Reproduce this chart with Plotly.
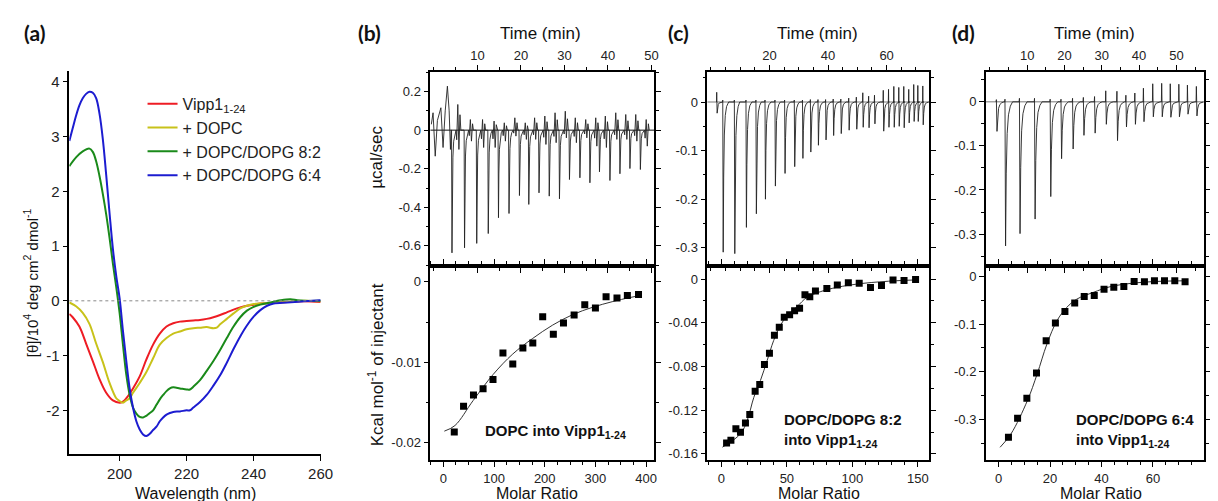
import plotly.graph_objects as go

W, H = 1218, 501
FONT = "Liberation Sans, Arial, sans-serif"

# ---------------- Panel (a): CD spectra ----------------
wl_red = [185, 186, 188, 190, 192, 194, 196, 198, 200, 201, 202, 204, 206, 208, 210, 212, 214, 216, 218, 220,
          222, 224, 226, 228, 230, 232, 234, 236, 238, 240, 242, 245, 250, 255, 260]
cd_red = [-0.24, -0.3, -0.47, -0.78, -1.1, -1.43, -1.68, -1.82, -1.86, -1.84, -1.78, -1.6, -1.38, -1.07, -0.8,
          -0.6, -0.47, -0.41, -0.38, -0.37, -0.36, -0.35, -0.33, -0.3, -0.26, -0.21, -0.16, -0.12, -0.09, -0.07,
          -0.05, -0.04, -0.02, -0.01, -0.02]

wl_yel = [185, 187, 189, 191, 193, 195, 197, 199, 200, 201, 202, 203, 204, 206, 208, 210, 212, 214, 216, 218,
          220, 222, 224, 226, 228, 229, 230, 232, 234, 236, 238, 240, 245, 250, 255, 260]
cd_yel = [-0.03, -0.1, -0.22, -0.42, -0.78, -1.12, -1.5, -1.78, -1.83, -1.86, -1.82, -1.78, -1.68, -1.5, -1.3,
          -1.05, -0.8, -0.68, -0.6, -0.56, -0.52, -0.5, -0.49, -0.48, -0.5, -0.49, -0.43, -0.33, -0.23, -0.14,
          -0.09, -0.06, -0.04, -0.02, 0.0, -0.01]

wl_grn = [185, 187, 189, 191, 192, 193, 194, 195, 196, 197, 198, 199, 200, 201, 202, 203, 204, 205, 206, 207,
          208, 209, 210, 211, 212, 213, 214, 215, 216, 218, 220, 221, 222, 224, 226, 228, 230, 232, 234, 236,
          238, 240, 242, 245, 248, 251, 253, 255, 260]
cd_grn = [2.46, 2.62, 2.73, 2.78, 2.72, 2.55, 2.28, 1.95, 1.58, 1.15, 0.68, 0.25, -0.22, -0.8, -1.35, -1.72,
          -1.95, -2.06, -2.12, -2.13, -2.1, -2.05, -2.0, -1.9, -1.8, -1.72, -1.65, -1.6, -1.58, -1.6, -1.62,
          -1.62, -1.57, -1.45, -1.28, -1.1, -0.9, -0.68, -0.47, -0.3, -0.18, -0.11, -0.07, -0.03, 0.01, 0.03,
          0.01, 0.0, 0.0]

wl_blu = [185, 186, 187, 188, 189, 190, 191, 192, 193, 194, 195, 196, 197, 198, 199, 200, 201, 202, 203, 204,
          205, 206, 207, 208, 209, 210, 211, 212, 213, 214, 215, 216, 218, 220, 221, 222, 224, 226, 228, 230,
          232, 234, 236, 238, 240, 242, 244, 246, 250, 255, 260]
cd_blu = [2.92, 3.15, 3.38, 3.57, 3.7, 3.78, 3.82, 3.8, 3.7, 3.42, 2.95, 2.3, 1.6, 0.95, 0.45, 0.05, -0.55,
          -1.1, -1.6, -1.95, -2.2, -2.35, -2.44, -2.47, -2.43, -2.36, -2.3, -2.2, -2.13, -2.08, -2.05, -2.03,
          -2.02, -2.0, -2.0, -1.95, -1.85, -1.72, -1.55, -1.36, -1.13, -0.88, -0.65, -0.45, -0.29, -0.17, -0.09,
          -0.05, -0.03, -0.01, 0.01]

cd_names = ["Vipp1<sub>1-24</sub>", "+ DOPC", "+ DOPC/DOPG 8:2", "+ DOPC/DOPG 6:4"]
cd_colors = ["#ee1c24", "#c8c21a", "#1a8a1a", "#1c1cd0"]

# ---------------- Panel (b): DOPC into Vipp1 ----------------
b_inj_t = [4.09, 6.98, 9.78, 12.43, 14.78, 17.2, 19.6, 21.75, 24.1, 26.45, 28.8, 31.1, 33.5, 35.8, 38.0,
           40.4, 42.7, 45.0, 47.4]
b_inj_peak = [-0.636, -0.61, -0.587, -0.536, -0.454, -0.432, -0.339, -0.385, -0.325, -0.342, -0.356, -0.256,
              -0.247, -0.273, -0.216, -0.261, -0.226, -0.199, -0.204]
b_hi = [0.133, 0.055, 0.055, 0.047, 0.038, 0.064, 0.038, 0.064, 0.073, 0.09, 0.098, 0.064, 0.055, 0.064, 0.073,
        0.09, 0.081, 0.081, 0.055]
b_lo = [-0.1, -0.057, -0.09, -0.09, -0.057, -0.031, -0.048, -0.048, -0.074, -0.065, -0.04, -0.065, -0.04,
        -0.083, -0.09, -0.048, -0.048, -0.057, -0.083]
b_pre_t = [-0.6, -0.2, 0.3, 0.8, 1.6, 2.1, 2.6, 3.1, 3.5, 3.8]
b_pre_v = [0.03, 0.09, -0.135, 0.05, 0.116, -0.09, 0.1, 0.228, 0.1, -0.1]

b_mr = [21.6, 39.9, 59.5, 78.4, 98, 117.6, 137, 156.9, 176.5, 196, 217, 237, 258, 279, 300, 321, 342.5, 363, 385]
b_heat = [-0.01867, -0.01545, -0.01405, -0.0133, -0.01215, -0.00884, -0.0102, -0.00822, -0.0076, -0.00434,
          -0.00653, -0.00513, -0.00413, -0.00285, -0.00327, -0.00186, -0.00203, -0.0017, -0.0016]
b_fit_mr = [2, 23, 58.8, 98, 137, 176.5, 215.7, 255, 294, 333, 369, 390]
b_fit = [-0.01855, -0.01785, -0.01475, -0.01153, -0.00897, -0.00703, -0.00538, -0.00409, -0.00318, -0.00248,
         -0.00195, -0.0017]

# ---------------- Panel (c): DOPC/DOPG 8:2 ----------------
c_inj_t = [2.0, 4.07, 8.03, 12.0, 15.4, 18.5, 21.9, 25.2, 28.5, 31.3, 34.0, 36.6, 39.2, 41.8, 44.4, 47.1, 49.7,
           51.9, 53.9, 55.9, 58.9, 60.7, 62.5, 64.2, 65.9, 67.6, 69.3, 70.7, 72.4]
c_inj_peak = [-0.023, -0.309, -0.312, -0.258, -0.23, -0.2, -0.173, -0.147, -0.133, -0.116, -0.103, -0.089,
              -0.078, -0.069, -0.065, -0.058, -0.056, -0.052, -0.053, -0.045, -0.06, -0.052, -0.052, -0.05,
              -0.053, -0.043, -0.04, -0.04, -0.047]
c_inj_up = [0.02, 0.004, 0.004, 0.004, 0.004, 0.004, 0.004, 0.004, 0.004, 0.004, 0.005, 0.005, 0.005, 0.006,
            0.006, 0.008, 0.01, 0.019, 0.012, 0.014, 0.024, 0.026, 0.032, 0.03, 0.032, 0.026, 0.036, 0.034, 0.033]

c_mr = [4.0, 7.3, 11.1, 14.6, 18.4, 21.7, 25.8, 29.3, 32.9, 36.7, 40.5, 44.2, 48, 52.1, 55.9, 59.7, 63.8, 67.5,
        71.8, 80.5, 88.5, 96.9, 105.2, 113.8, 122.2, 131, 139.4, 148.2]
c_heat = [-0.150, -0.1475, -0.1371, -0.1402, -0.1317, -0.124, -0.1027, -0.0966, -0.0783, -0.0679, -0.0515,
          -0.0442, -0.035, -0.0326, -0.0289, -0.0268, -0.0143, -0.0161, -0.011, -0.0085, -0.0055, -0.0033,
          -0.0039, -0.0076, -0.0058, -0.0009, -0.0012, -0.0003]
c_fit_mr = [0.8, 14.6, 19.7, 24.8, 29.8, 34.9, 39.9, 45, 50.1, 57.7, 65.3, 75.4, 88, 108, 133.6, 150]
c_fit = [-0.1539, -0.1417, -0.1295, -0.1082, -0.0929, -0.0747, -0.0563, -0.0426, -0.0335, -0.0253, -0.0167,
         -0.0116, -0.0076, -0.0039, -0.0015, -0.0007]

# ---------------- Panel (d): DOPC/DOPG 6:4 ----------------
d_inj_t = [1.78, 4.08, 7.96, 12.0, 16.2, 19.1, 22.2, 25.1, 28.1, 31.1, 34.1, 36.5, 38.9, 41.2, 43.7, 46.1,
           48.4, 50.7, 53.0, 55.4]
d_inj_peak = [-0.067, -0.327, -0.299, -0.266, -0.215, -0.129, -0.107, -0.076, -0.071, -0.051, -0.088, -0.057,
              -0.051, -0.045, -0.034, -0.034, -0.035, -0.034, -0.028, -0.032]
d_inj_up = [0.005, 0.006, 0.008, 0.008, 0.006, 0.006, 0.008, 0.01, 0.012, 0.025, 0.024, 0.015, 0.02, 0.031,
            0.041, 0.042, 0.041, 0.04, 0.038, 0.035]

d_mr = [3.85, 7.4, 11.0, 14.75, 18.5, 22.1, 25.8, 29.6, 33.3, 37.2, 41.0, 44.8, 48.7, 52.7, 56.7, 60.6, 64.5,
        68.5, 72.5]
d_heat = [-0.3375, -0.2977, -0.2558, -0.2027, -0.1349, -0.0979, -0.0734, -0.0559, -0.0419, -0.0398, -0.0266,
          -0.0224, -0.021, -0.0105, -0.0112, -0.009, -0.009, -0.009, -0.0112]
d_fit_mr = [0.6, 4.8, 11.2, 15, 18.8, 22.7, 26.5, 30.4, 36.8, 43.3, 52.3, 61.2, 72.5]
d_fit = [-0.3585, -0.3306, -0.2607, -0.2048, -0.1419, -0.0929, -0.065, -0.0476, -0.0335, -0.0216, -0.014,
         -0.0105, -0.0091]

# spike profile used to draw each injection peak (relative time, fraction of peak depth)
SPIKE_DT = [0.12, 0.3, 0.55, 0.9, 1.4, 2.0]
SPIKE_F = [1.0, 0.5, 0.22, 0.09, 0.03, 0.0]


def thermogram(times, peaks, ups, width, hi=None, lo=None, pre_t=None, pre_v=None):
    xs, ys = [], []
    if pre_t:
        xs += list(pre_t)
        ys += list(pre_v)
    for i, (t, p, u) in enumerate(zip(times, peaks, ups)):
        xs += [t - 0.12, t - 0.04]
        ys += [0.0, u]
        for dt, f in zip(SPIKE_DT, SPIKE_F):
            xs.append(t + dt * width)
            ys.append(p * f)
        if hi is not None:
            xs += [t + 1.15, t + 1.4, t + 1.65, t + 1.9, t + 2.1]
            ys += [lo[i] * 0.5, hi[i], lo[i], hi[i] * 0.6, 0.0]
        else:
            xs.append(t + 2.2 * width)
            ys.append(0.0)
    return xs, ys


def px(x):
    return x / W


def py(y):
    return 1 - y / H


fig = go.Figure()

# Panel (a)
for wl, cd, nm, col in zip([wl_red, wl_yel, wl_grn, wl_blu], [cd_red, cd_yel, cd_grn, cd_blu], cd_names, cd_colors):
    fig.add_trace(go.Scatter(x=wl, y=cd, mode="lines", name=nm, line=dict(color=col, width=2, shape="spline"),
                             xaxis="x", yaxis="y", showlegend=True))

# ITC panels
panels = [
    dict(top=("x2", "y2"), bot=("x3", "y3"),
         therm=thermogram(b_inj_t, b_inj_peak, [0.0] * len(b_inj_t), 0.5, b_hi, b_lo, b_pre_t, b_pre_v),
         mr=b_mr, heat=b_heat, fmr=b_fit_mr, fit=b_fit),
    dict(top=("x4", "y4"), bot=("x5", "y5"),
         therm=thermogram(c_inj_t, c_inj_peak, c_inj_up, 0.9),
         mr=c_mr, heat=c_heat, fmr=c_fit_mr, fit=c_fit),
    dict(top=("x6", "y6"), bot=("x7", "y7"),
         therm=thermogram(d_inj_t, d_inj_peak, d_inj_up, 1.0),
         mr=d_mr, heat=d_heat, fmr=d_fit_mr, fit=d_fit),
]
for p in panels:
    tx, ty = p["therm"]
    fig.add_trace(go.Scatter(x=tx, y=ty, mode="lines", line=dict(color="#222222", width=0.9),
                             xaxis=p["top"][0], yaxis=p["top"][1], showlegend=False))
    fig.add_trace(go.Scatter(x=p["fmr"], y=p["fit"], mode="lines",
                             line=dict(color="#333333", width=1, shape="spline"),
                             xaxis=p["bot"][0], yaxis=p["bot"][1], showlegend=False))
    fig.add_trace(go.Scatter(x=p["mr"], y=p["heat"], mode="markers",
                             marker=dict(symbol="square", size=7, color="black"),
                             xaxis=p["bot"][0], yaxis=p["bot"][1], showlegend=False))

tickfont_itc = dict(family=FONT, size=13, color="#222")


def itc_axis(domain, rng, tickvals, ticktext, minor_dtick, side=None, anchor=None):
    d = dict(domain=domain, range=rng, tickvals=tickvals, ticks="outside", ticklen=5, tickwidth=1.2,
             tickcolor="black", showline=True, linecolor="black", linewidth=1.8, mirror="ticks",
             showgrid=False, zeroline=False, tickfont=tickfont_itc,
             minor=dict(dtick=minor_dtick, tick0=0, ticklen=3, tickcolor="black", ticks="outside",
                        showgrid=False))
    if ticktext is not None:
        d["ticktext"] = ticktext
    if side:
        d["side"] = side
    if anchor:
        d["anchor"] = anchor
    return d


xb, xc, xd = [px(427), px(653)], [px(707), px(931)], [px(988.5), px(1208.5)]
ytop, ybot = [py(258.3), py(64)], [py(453.3), py(258.3)]

layout = dict(
    width=W, height=H, margin=dict(l=0, r=0, t=0, b=0), paper_bgcolor="white", plot_bgcolor="white",
    font=dict(family=FONT, color="#222"),
    showlegend=True,
    legend=dict(x=px(136), y=py(79), xanchor="left", yanchor="top", bgcolor="rgba(0,0,0,0)",
                font=dict(family=FONT, size=16, color="#222"), tracegroupgap=0, itemwidth=30),
    xaxis=dict(domain=[px(62), px(316)], range=[185, 260], tickvals=[200, 220, 240, 260], ticks="outside",
               ticklen=5, tickcolor="black", showline=True, linecolor="black", linewidth=1.5, showgrid=False,
               zeroline=False, tickfont=dict(family=FONT, size=15, color="#222"), anchor="y"),
    yaxis=dict(domain=[py(447), py(63)], range=[-2.8, 4.2], tickvals=[-2, -1, 0, 1, 2, 3, 4],
               ticktext=["-2", "-1", "0", "1", "2", "3", "4"], ticks="outside", ticklen=5, tickcolor="black",
               showline=True, linecolor="black", linewidth=1.5, showgrid=False, zeroline=False,
               tickfont=dict(family=FONT, size=15, color="#222"), anchor="x"),
    # panel b
    xaxis2=itc_axis(xb, [-0.8, 50.6], [10, 20, 30, 40, 50], None, 5, side="top", anchor="y2"),
    yaxis2=itc_axis(ytop, [-0.703, 0.302], [-0.6, -0.4, -0.2, 0, 0.2],
                    ["-0.6", "-0.4", "-0.2", "0", "0.2"], 0.1, anchor="x2"),
    xaxis3=itc_axis(xb, [-25.4, 415.6], [0, 100, 200, 300, 400], None, 25, anchor="y3"),
    yaxis3=itc_axis(ybot, [-0.02218, 0.00198], [-0.02, -0.01, 0], ["-0.02", "-0.01", "0"], 0.005, anchor="x3"),
    # panel c
    xaxis4=itc_axis(xc, [-1.2, 74.5], [20, 40, 60], None, 5, side="top", anchor="y4"),
    yaxis4=itc_axis(ytop, [-0.337, 0.062], [-0.3, -0.2, -0.1, 0], ["-0.3", "-0.2", "-0.1", "0"], 0.05,
                    anchor="x4"),
    xaxis5=itc_axis(xc, [-10.6, 158.5], [0, 50, 100, 150], None, 10, anchor="y5"),
    yaxis5=itc_axis(ybot, [-0.166, 0.0122], [-0.16, -0.12, -0.08, -0.04, 0],
                    ["-0.16", "-0.12", "-0.08", "-0.04", "0"], 0.02, anchor="x5"),
    # panel d
    xaxis6=itc_axis(xd, [-1.06, 57.3], [10, 20, 30, 40, 50], None, 5, side="top", anchor="y6"),
    yaxis6=itc_axis(ytop, [-0.372, 0.068], [-0.3, -0.2, -0.1, 0], ["-0.3", "-0.2", "-0.1", "0"], 0.05,
                    anchor="x6"),
    xaxis7=itc_axis(xd, [-4.9, 79.7], [0, 20, 40, 60, 80], None, 5, anchor="y7"),
    yaxis7=itc_axis(ybot, [-0.386, 0.0224], [-0.3, -0.2, -0.1, 0], ["-0.3", "-0.2", "-0.1", "0"], 0.05,
                    anchor="x7"),
)
fig.update_layout(**layout)

# zero reference lines
shapes = [dict(type="line", xref="x domain", yref="y", x0=0, x1=1, y0=0, y1=0,
               line=dict(color="#888", width=1, dash="dot"))]
for xr, yr, col in [("x2", "y2", "#111"), ("x4", "y4", "#777"), ("x6", "y6", "#777")]:
    shapes.append(dict(type="line", xref=xr + " domain", yref=yr, x0=0, x1=1, y0=0, y1=0,
                       line=dict(color=col, width=1), layer="below"))
fig.update_layout(shapes=shapes)

ann = []


def add_text(text, x, y, size, bold=False, angle=0, xanchor="center", align="center", family=FONT):
    ann.append(dict(text=("<b>%s</b>" % text) if bold else text, x=px(x), y=py(y), xref="paper", yref="paper",
                    showarrow=False, xanchor=xanchor, yanchor="middle", textangle=angle, align=align,
                    font=dict(family=family, size=size, color="#111")))


LBL = "Lato, Open Sans, sans-serif"
add_text("(a)", 27, 25, 21, bold=True, family=LBL)
add_text("(b)", 365, 25, 21, bold=True, family=LBL)
add_text("(c)", 678, 25, 21, bold=True, family=LBL)
add_text("(d)", 966, 25, 21, bold=True, family=LBL)

add_text("Wavelength (nm)", 190, 486, 16)
add_text("[θ]/10<sup>4</sup> deg cm<sup>2</sup> dmol<sup>-1</sup>", 23, 275, 15, angle=-90)

for xc_ in [538, 818, 1098]:
    add_text("Time (min)", xc_, 26, 17)
for xc_ in [535, 820, 1105]:
    add_text("Molar Ratio", xc_, 486, 16)
add_text("µcal/sec", 373, 150, 17, angle=-90)
add_text("Kcal mol<sup>-1</sup> of injectant", 372, 358, 17, angle=-90)

add_text("DOPC into Vipp1<sub>1-24</sub>", 480, 424, 15, bold=True, xanchor="left")
add_text("DOPC/DOPG 8:2<br>into Vipp1<sub>1-24</sub>", 782, 423, 15, bold=True, xanchor="left", align="left")
add_text("DOPC/DOPG 6:4<br>into Vipp1<sub>1-24</sub>", 1078, 423, 15, bold=True, xanchor="left", align="left")
fig.update_layout(annotations=ann)

fig.write_html("out.html")
